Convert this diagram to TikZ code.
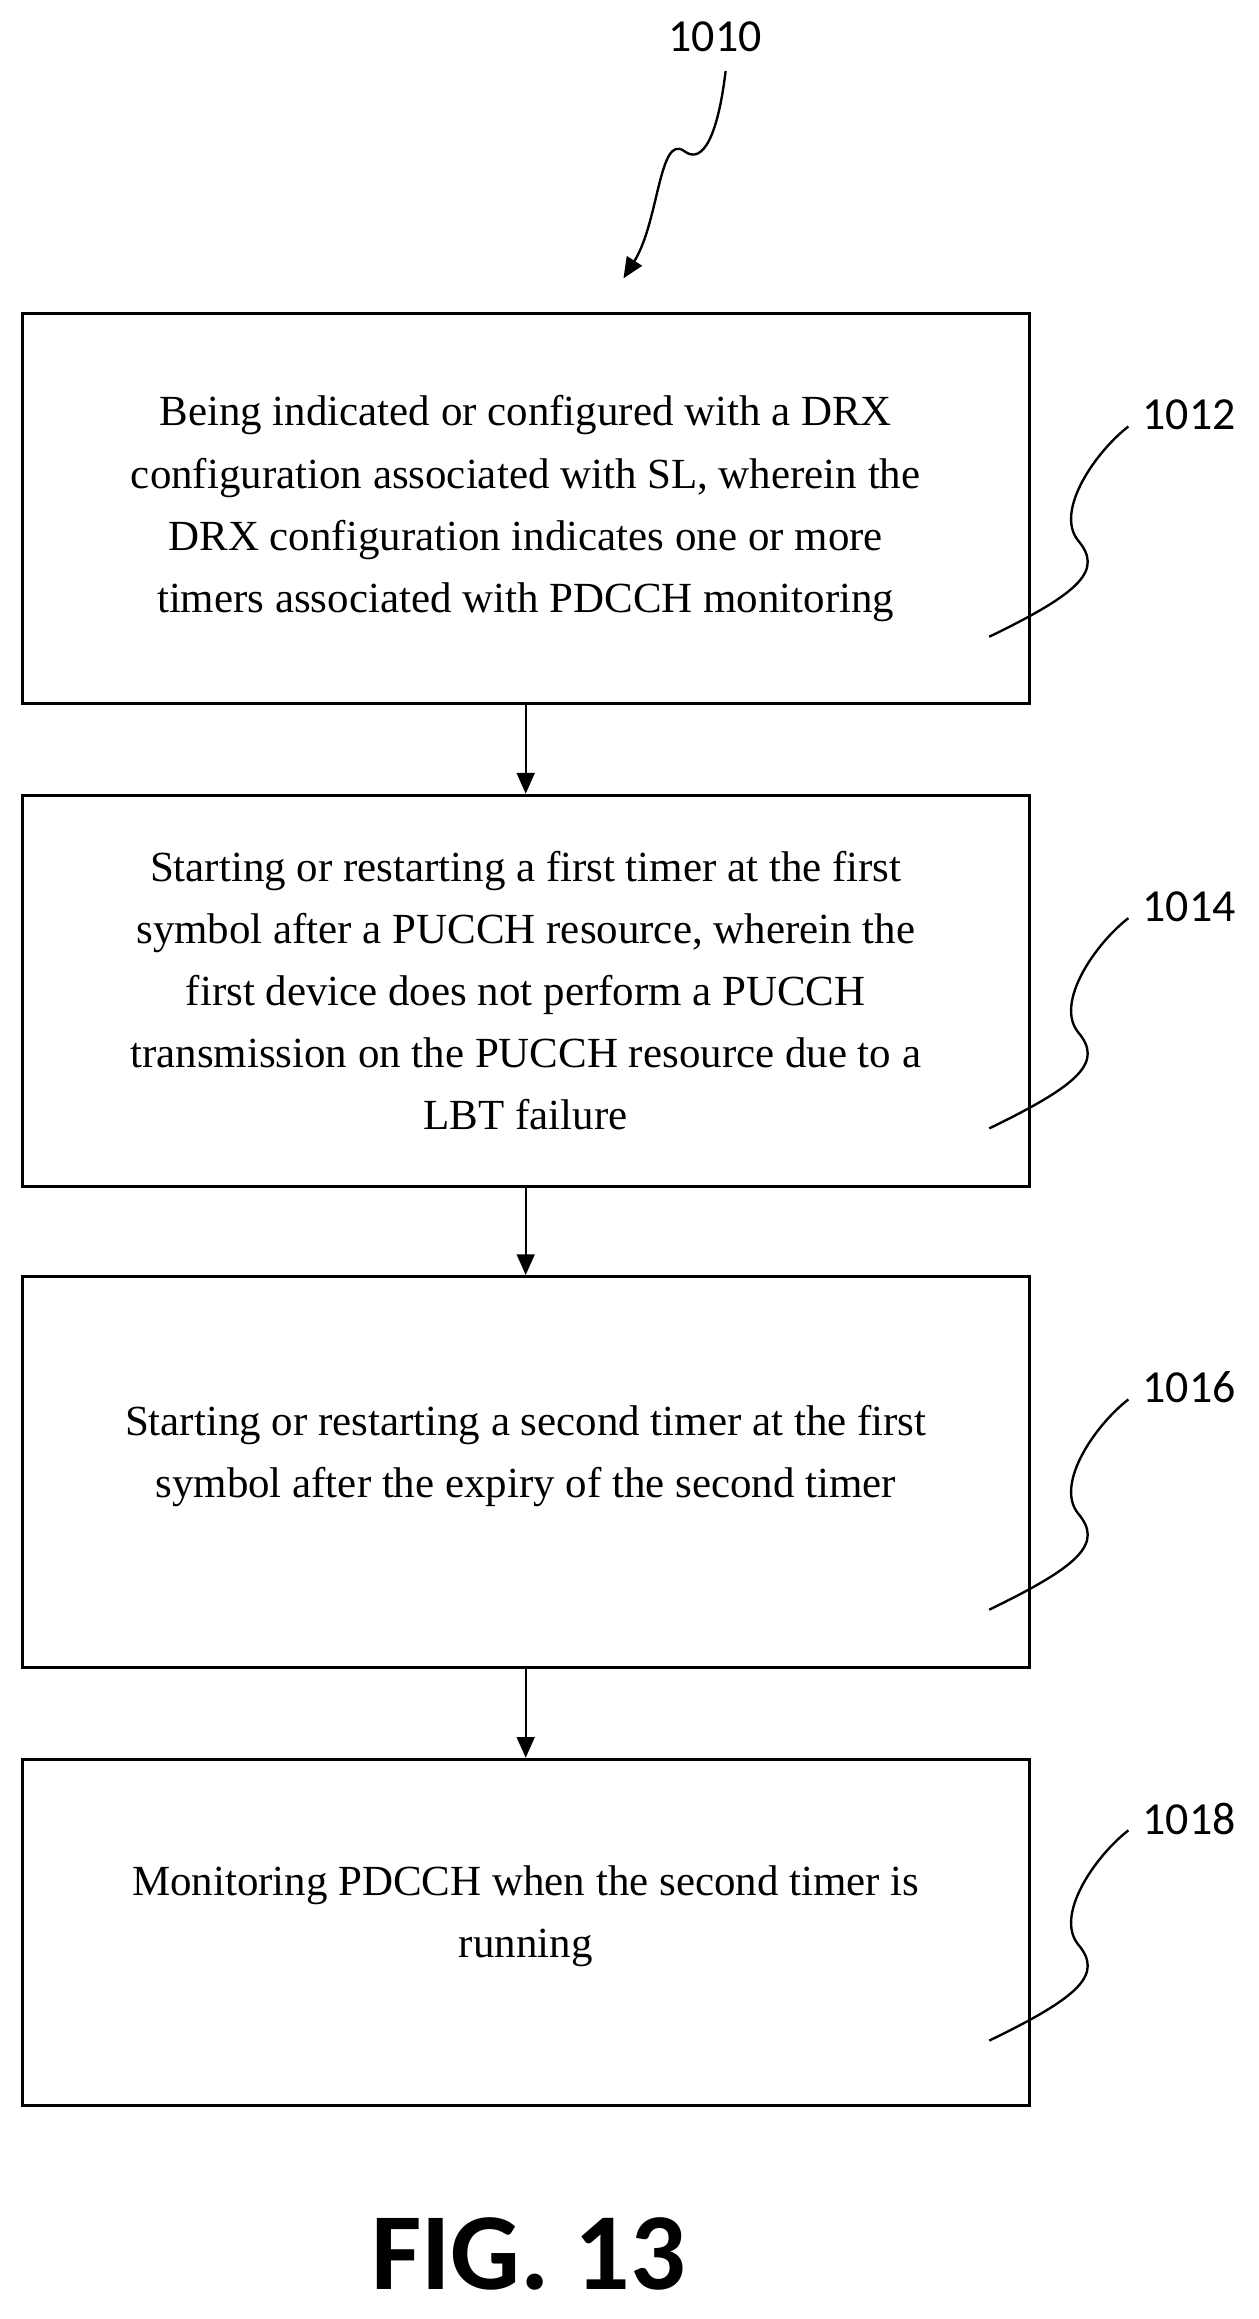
\documentclass[tikz,border=0pt]{standalone}
\usepackage{fontspec}
\setmainfont{Liberation Serif}
\newfontfamily\lab{Carlito}
\usetikzlibrary{arrows.meta}
\begin{document}
\begin{tikzpicture}[x=0.5pt,y=-0.5pt,
  box/.style={draw,line width=1pt,minimum width=340pt,align=center,font=\fontsize{14.5}{21}\selectfont,inner sep=0pt},
  lbl/.style={font=\lab\fontsize{15.5}{18}\selectfont},
  arr/.style={-{Triangle[length=7pt,width=6pt]},line width=0.8pt},
  sq/.style={line width=0.8pt}]
\useasboundingbox (0,0) rectangle (850,1566);
\node[box,minimum height=131.5pt] (b1) at (355,343.5) {Being indicated or configured with a DRX\\configuration associated with SL, wherein the\\DRX configuration indicates one or more\\timers associated with PDCCH monitoring};
\node[box,minimum height=132pt] (b2) at (355,669) {Starting or restarting a first timer at the first\\symbol after a PUCCH resource, wherein the\\first device does not perform a PUCCH\\transmission on the PUCCH resource due to a\\LBT failure};
\node[box,minimum height=132pt,text depth=14pt] (b3) at (355,994) {Starting or restarting a second timer at the first\\symbol after the expiry of the second timer};
\node[box,minimum height=117pt,text depth=14pt] (b4) at (355,1305) {Monitoring PDCCH when the second timer is\\running};
\draw[arr] (b1.south) -- (b2.north);
\draw[arr] (b2.south) -- (b3.north);
\draw[arr] (b3.south) -- (b4.north);
\node[lbl] (l0) at (483,25) {1010};
\coordinate (a0) at (490,48);
\coordinate (t0) at (421,188);
\draw[arr] (a0) .. controls (485,90) and (475,112) .. (462,102) .. controls (445,90) and (445,150) .. (t0);
\foreach \n/\y in {1012/280,1014/612,1016/937,1018/1228}{
  \node[lbl] (l\n) at (803,\y) {\n};
  \coordinate (s\n) at (668,\y+150);
  \coordinate (e\n) at (762,\y+8);
  \draw[sq] (s\n) .. controls (730,\y+120) and (745,\y+105) .. (728,\y+85) .. controls (712,\y+65) and (740,\y+25) .. (e\n);
}
\node[font=\lab\bfseries\fontsize{37}{40}\selectfont] (fig) at (357,1522) {FIG. 13};
\end{tikzpicture}
\end{document}
